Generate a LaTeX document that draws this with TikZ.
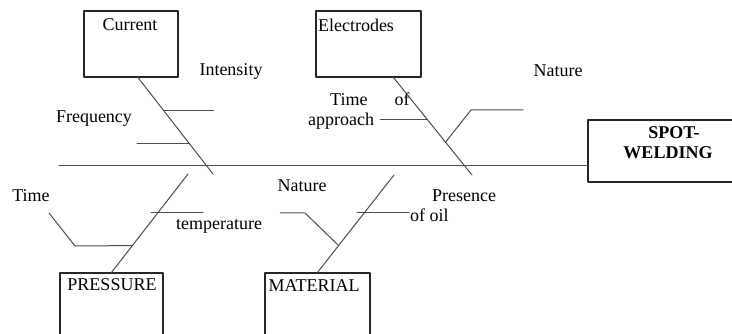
\documentclass[tikz,border=0pt]{standalone}
\usepackage{fontspec}
\setmainfont{Liberation Serif}
\usetikzlibrary{calc}
\begin{document}
\begin{tikzpicture}[x=1pt, y=-1pt, line join=round, line cap=round,
		font=\fontsize{18}{20}\selectfont,
		bone/.style={draw=black!70, line width=1pt},
		causebox/.style={draw=black!85, line width=1.1pt, minimum width=#1, minimum height=66pt, inner sep=0pt},
		lbl/.style={inner sep=0pt}]
				\useasboundingbox (0,0) rectangle (732,334);
				% boxes
				\node[causebox=94] (current) at (131,44) {};
				\node[causebox=105] (electrodes) at (368.5,44) {};
				\node[causebox=150, minimum height=62pt] (spot) at (663,151) {};
				\node[causebox=103, minimum height=67pt] (pressure) at (111.5,306.5) {};
				\node[causebox=105, minimum height=67pt] (material) at (317.5,306.5) {};
				% spine
				\coordinate (tail) at (59,166);
				\coordinate (head) at (588,166);
				\draw[bone] (tail)--(head);
				% cause bones
				\coordinate (cur1) at ([xshift=7pt]current.south);
				\coordinate (cur2) at (213,174);
				\coordinate (ele1) at ([xshift=25pt]electrodes.south);
				\coordinate (ele2) at (472,175);
				\coordinate (pre1) at (pressure.north);
				\coordinate (pre2) at (188,174);
				\coordinate (mat1) at (material.north);
				\coordinate (mat2) at (394,175);
				\draw[bone] (cur1)--(cur2);
				\draw[bone] (ele1)--(ele2);
				\draw[bone] (pre1)--(pre2);
				\draw[bone] (mat1)--(mat2);
				% sub causes
				\draw[bone] ($(cur1)!0.34!(cur2)$)--++(50,0);
				\draw[bone] ($(cur1)!0.68!(cur2)$)--++(-52,0);
				\draw[bone] ($(ele1)!0.43!(ele2)$)--++(-47,0);
				\draw[bone] ($(ele1)!0.663!(ele2)$)--(471,110)--(523,110);
				\draw[bone] (49,213)--(75,246)--($(pre1)!0.273!(pre2)$);
				\draw[bone] (151,213)--(203,213);
				\draw[bone] (280,213)--(305,213)--($(mat1)!0.276!(mat2)$);
				\draw[bone] (357,213)--(409,213);
				% texts
				\node[lbl] (currenttxt) at (130,25) {Current};
				\node[lbl] (electrodestxt) at (356,25) {Electrodes};
				\node[lbl] (intensity) at (231,71) {Intensity};
				\node[lbl] (frequency) at (94,119) {Frequency};
				\node[lbl, align=left, anchor=west] (timeapp) at (308,111) {\hspace*{22pt}Time\hspace{27pt}of\\approach};
				\node[lbl] (naturetop) at (558,71) {Nature};
				\node[lbl, align=center, font=\fontsize{18}{20}\selectfont\bfseries] (spottxt) at (668,143) {\hspace*{12pt}SPOT-\\WELDING};
				\node[lbl] (time) at (31,196) {Time};
				\node[lbl] (temperature) at (219,226) {temperature};
				\node[lbl] (naturebot) at (302,186) {Nature};
				\node[lbl, align=left, anchor=west] (oil) at (410,206) {\hspace*{22pt}Presence\\of oil};
				\node[lbl] (pressuretxt) at (112,285) {PRESSURE};
				\node[lbl] (materialtxt) at (314,286) {MATERIAL};
		\end{tikzpicture}
\end{document}
